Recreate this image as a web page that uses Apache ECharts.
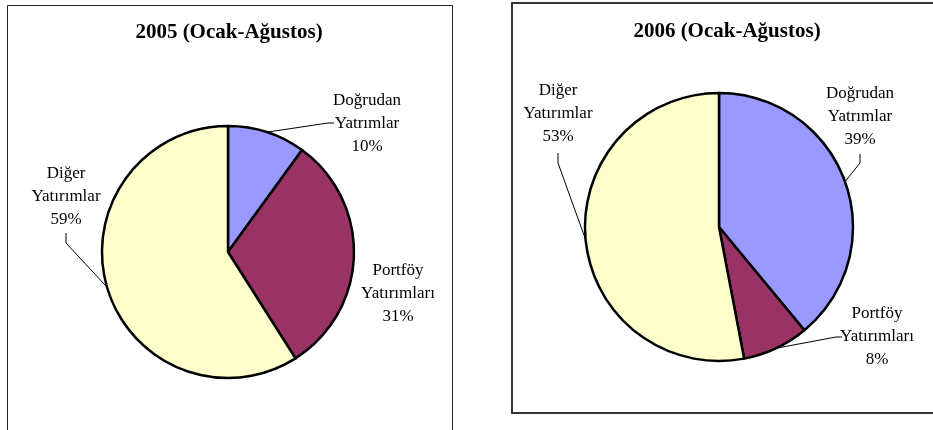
<!DOCTYPE html>
<html>
<head>
<meta charset="utf-8">
<style>
  html, body { margin: 0; padding: 0; background: #fff; }
  #chart { width: 933px; height: 430px; }
</style>
<script src="https://cdn.jsdelivr.net/npm/echarts@6/dist/echarts.min.js"></script>
</head>
<body>
<div id="chart"></div>
<script>
// kategori isimleri ve renkler
const categories = ['Doğrudan\nYatrımlar', 'Portföy\nYatırımları', 'Diğer\nYatırımlar']
const colors = ['#9999FF', '#993366', '#FFFFCC']

// yüzdeler
const values2005 = [10, 31, 59]
const values2006 = [39, 8, 53]

const titles = ['2005 (Ocak-Ağustos)', '2006 (Ocak-Ağustos)']

// etiket konumları (merkez x, üst y) ve kılavuz çizgisi kırılma noktası
const labelPos = [
  [
    { x: 367, y: 89, elbow: [328, 123], line: true },
    { x: 398, y: 259, line: false },
    { x: 66, y: 162, elbow: [66, 243], bend: [66, 233], line: true },
  ],
  [
    { x: 860, y: 82, elbow: [860, 163], bend: [860, 154], line: true },
    { x: 877, y: 302, elbow: [836, 337], line: true },
    { x: 558, y: 79, elbow: [558, 163], bend: [558, 153], line: true },
  ],
]

const font = '"Liberation Serif", "Times New Roman", serif'

const makeData = (vals) =>
  vals.map((v, i) => ({ name: categories[i], value: v, itemStyle: { color: colors[i] } }))

const makeSeries = (vals, center, radius, si) => ({
  type: 'pie',
  center: center,
  radius: radius,
  startAngle: 90,
  clockwise: true,
  animation: false,
  silent: true,
  data: makeData(vals),
  itemStyle: { borderColor: '#000', borderWidth: 2.5 },
  label: {
    show: true,
    position: 'outside',
    formatter: '{b}\n{c}%',
    fontFamily: font,
    fontSize: 17,
    lineHeight: 23,
    color: '#000',
    align: 'center',
    overflow: 'none',
  },
  labelLine: { show: true, lineStyle: { color: '#000', width: 1 } },
  labelLayout: function (params) {
    const p = labelPos[si][params.dataIndex]
    const start = params.labelLinePoints ? params.labelLinePoints[0] : null
    const res = { x: p.x, y: p.y, align: 'center', verticalAlign: 'top', hideOverlap: false }
    if (p.line && start) {
      const pts = [start, p.elbow]
      if (p.bend) pts.push(p.bend)
      else pts.push([p.elbow[0] + 6, p.elbow[1]])
      res.labelLinePoints = pts
    } else {
      res.labelLinePoints = start ? [start, start, start] : undefined
    }
    return res
  },
})

const chart = echarts.init(document.getElementById('chart'))

const option = {
  backgroundColor: '#fff',
  graphic: [
    {
      type: 'rect',
      shape: { x: 7.5, y: 5.5, width: 445, height: 440 },
      style: { fill: 'none', stroke: '#222', lineWidth: 1 },
      z: 0,
    },
    {
      type: 'rect',
      shape: { x: 512, y: 3, width: 440, height: 410 },
      style: { fill: 'none', stroke: '#333', lineWidth: 2 },
      z: 0,
    },
    {
      type: 'text',
      x: 229,
      y: 33,
      style: {
        text: titles[0],
        font: 'bold 21px ' + font,
        fill: '#000',
        align: 'center',
        verticalAlign: 'middle',
      },
    },
    {
      type: 'text',
      x: 727,
      y: 32,
      style: {
        text: titles[1],
        font: 'bold 21px ' + font,
        fill: '#000',
        align: 'center',
        verticalAlign: 'middle',
      },
    },
  ],
  series: [
    makeSeries(values2005, [228, 252], 126, 0),
    makeSeries(values2006, [719, 227], 134, 1),
  ],
}

chart.setOption(option)
</script>
</body>
</html>
